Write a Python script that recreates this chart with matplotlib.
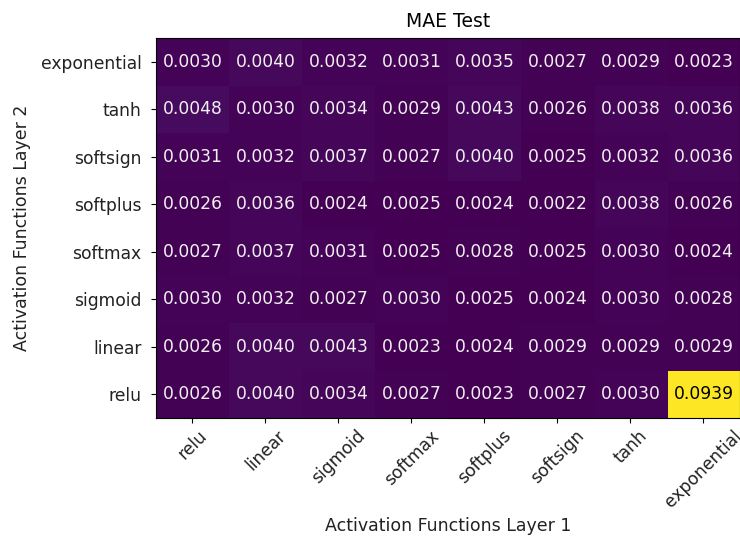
import numpy as np
import matplotlib
matplotlib.use('Agg')
import matplotlib.pyplot as plt

# activation functions tested on each layer
layer1_funcs = ['relu', 'linear', 'sigmoid', 'softmax', 'softplus', 'softsign', 'tanh', 'exponential']
layer2_funcs = ['relu', 'linear', 'sigmoid', 'softmax', 'softplus', 'softsign', 'tanh', 'exponential']

# MAE on test set, one row per layer-2 function (relu first)
mae_relu        = [0.0026, 0.0040, 0.0034, 0.0027, 0.0023, 0.0027, 0.0030, 0.0939]
mae_linear      = [0.0026, 0.0040, 0.0043, 0.0023, 0.0024, 0.0029, 0.0029, 0.0029]
mae_sigmoid     = [0.0030, 0.0032, 0.0027, 0.0030, 0.0025, 0.0024, 0.0030, 0.0028]
mae_softmax     = [0.0027, 0.0037, 0.0031, 0.0025, 0.0028, 0.0025, 0.0030, 0.0024]
mae_softplus    = [0.0026, 0.0036, 0.0024, 0.0025, 0.0024, 0.0022, 0.0038, 0.0026]
mae_softsign    = [0.0031, 0.0032, 0.0037, 0.0027, 0.0040, 0.0025, 0.0032, 0.0036]
mae_tanh        = [0.0048, 0.0030, 0.0034, 0.0029, 0.0043, 0.0026, 0.0038, 0.0036]
mae_exponential = [0.0030, 0.0040, 0.0032, 0.0031, 0.0035, 0.0027, 0.0029, 0.0023]

mae = np.array([mae_relu, mae_linear, mae_sigmoid, mae_softmax,
                mae_softplus, mae_softsign, mae_tanh, mae_exponential])

fig = plt.figure(figsize=(7.4, 5.4), dpi=100)
ax = fig.add_axes([0.2108, 0.2259, 0.7892, 0.7037])

ax.imshow(mae, cmap='viridis', origin='lower', aspect='auto')

ax.set_xticks(np.arange(len(layer1_funcs)))
ax.set_xticklabels(layer1_funcs, rotation=45, ha='center', fontsize=12.3, color='#222222')
ax.set_yticks(np.arange(len(layer2_funcs)))
ax.set_yticklabels(layer2_funcs, fontsize=12.3, color='#222222')
ax.tick_params(axis='y', pad=7)
ax.tick_params(axis='x', pad=3)

# annotate every cell
thresh = mae.max() / 2
for i in range(mae.shape[0]):
    for j in range(mae.shape[1]):
        c = 'black' if mae[i, j] > thresh else '#f0f0f0'
        ax.text(j, i, f'{mae[i, j]:.4f}', ha='center', va='center', color=c, fontsize=12.3)

ax.set_title('MAE Test', fontsize=13.5, pad=8)
ax.set_xlabel('Activation Functions Layer 1', fontsize=12.5, labelpad=4, color='#222222')
ax.set_ylabel('Activation Functions Layer 2', fontsize=12.5, labelpad=7, color='#222222')

fig.savefig('out.png', dpi=100)
